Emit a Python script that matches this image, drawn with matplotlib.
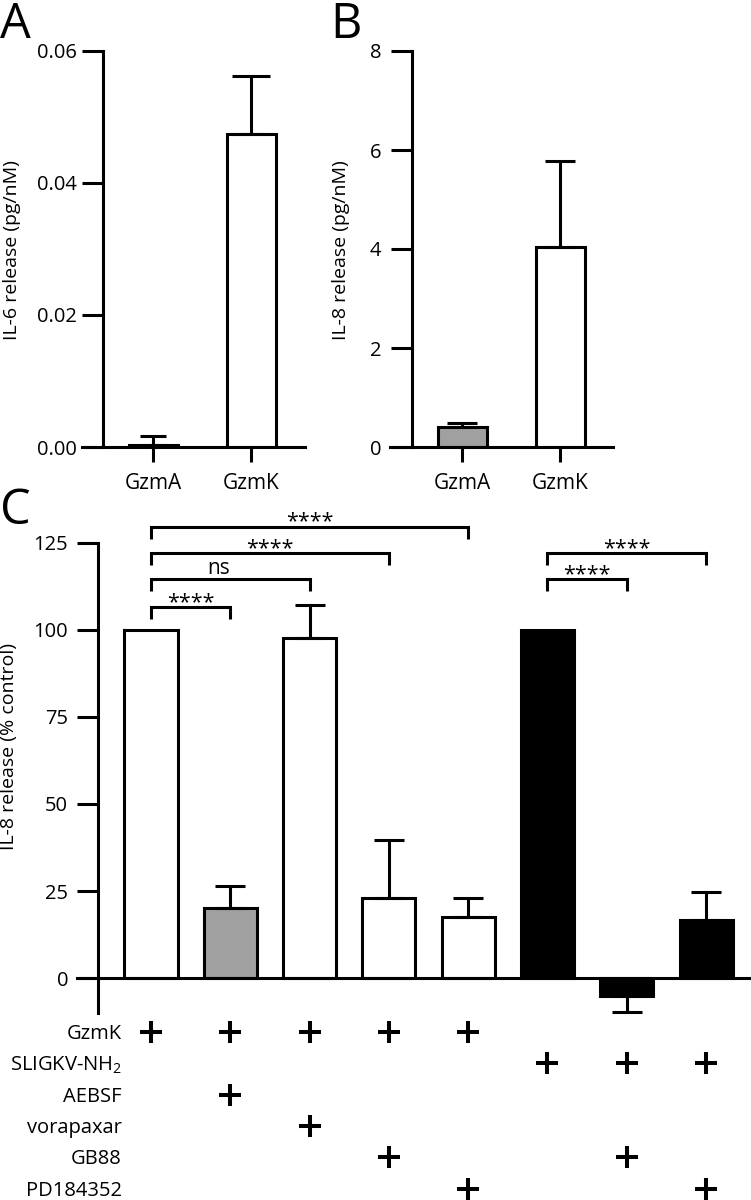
import numpy as np
import matplotlib
matplotlib.use("Agg")
import matplotlib.pyplot as plt
from matplotlib.transforms import blended_transform_factory

plt.rcParams['font.family'] = ['Open Sans', 'DejaVu Sans']
plt.rcParams['mathtext.default'] = 'regular'

W, H = 751, 1200

# panel A / B data
groups = ['GzmA', 'GzmK']
il6_vals = [0.0003, 0.0475]
il6_err = [0.0014, 0.0087]
il8_vals = [0.40, 4.05]
il8_err = [0.08, 1.72]

# panel C data
c_vals = [100, 20.2, 97.7, 23.0, 17.5, 100, -5.0, 16.8]
c_err = [0, 6.3, 9.3, 16.6, 5.5, 0, 4.8, 7.8]
c_fill = ['white', '#a0a0a0', 'white', 'white', 'white', 'black', 'black', 'black']

c_rows = ['GzmK', 'SLIGKV-NH$_2$', 'AEBSF', 'vorapaxar', 'GB88', 'PD184352']
c_table = [[1, 1, 1, 1, 1, 0, 0, 0],
           [0, 0, 0, 0, 0, 1, 1, 1],
           [0, 1, 0, 0, 0, 0, 0, 0],
           [0, 0, 1, 0, 0, 0, 0, 0],
           [0, 0, 0, 1, 0, 0, 1, 0],
           [0, 0, 0, 0, 1, 0, 0, 1]]

# significance: (bar i, bar j, label)
sig_pairs = [(0, 1, '****'), (0, 2, 'ns'), (0, 3, '****'), (0, 4, '****'),
             (5, 6, '****'), (5, 7, '****')]
sig_level = [106.5, 114.5, 122.0, 129.5, 114.5, 122.0]

LW = 2.2
TICK_FS = 14.5

fig = plt.figure(figsize=(W / 100, H / 100), dpi=100)


def px_axes(l, r, t, b):
    return fig.add_axes([l / W, 1 - b / H, (r - l) / W, (b - t) / H])


def one_sided(vals, errs):
    lo = [e if v < 0 else 0 for v, e in zip(vals, errs)]
    hi = [e if v >= 0 else 0 for v, e in zip(vals, errs)]
    return [lo, hi]


def style_axes(ax, yspine_x, ticks, labels, ylim):
    for s in ['top', 'right']:
        ax.spines[s].set_visible(False)
    ax.spines['left'].set_position(('data', yspine_x))
    ax.spines['left'].set_linewidth(LW)
    ax.spines['bottom'].set_linewidth(LW)
    ax.set_ylim(*ylim)
    ax.set_yticks(ticks)
    ax.set_yticklabels(labels)
    ax.tick_params(axis='y', length=15, width=LW, labelsize=TICK_FS, pad=5)
    ax.patch.set_visible(False)


# ---- panel A ----
axA = px_axes(82, 305, 51, 447)
x2 = np.arange(len(groups))
axA.bar(x2, il6_vals, width=0.5, color=['white', 'white'], edgecolor='black', linewidth=LW)
axA.errorbar(x2[0], il6_vals[0], yerr=[[0], [il6_err[0]]], fmt='none', ecolor='black',
             elinewidth=LW, capsize=9.7, capthick=LW, clip_on=False)
axA.errorbar(x2[1], il6_vals[1], yerr=[[0], [il6_err[1]]], fmt='none', ecolor='black',
             elinewidth=LW, capsize=13.7, capthick=LW, clip_on=False)
axA.set_xlim((82 - 153) / 98, (305 - 153) / 98)
style_axes(axA, -0.51, [0, 0.02, 0.04, 0.06], ['0.00', '0.02', '0.04', '0.06'], (0, 0.06))
axA.tick_params(axis='y', pad=4)
axA.set_xticks(x2)
axA.set_xticklabels(groups)
axA.tick_params(axis='x', length=10.8, width=LW, labelsize=15, pad=8)
fig.text(12 / W, 1 - 250 / H, 'IL-6 release (pg/nM)', rotation=90, ha='center', va='center', fontsize=14)

# ---- panel B ----
axB = px_axes(390, 613, 51, 447)
axB.bar(x2, il8_vals, width=0.5, color=['#a0a0a0', 'white'], edgecolor='black', linewidth=LW)
axB.errorbar(x2, il8_vals, yerr=[[0, 0], il8_err], fmt='none', ecolor='black',
             elinewidth=LW, capsize=10.8, capthick=LW, clip_on=False)
axB.set_xlim((390 - 462) / 98, (613 - 462) / 98)
style_axes(axB, -0.51, [0, 2, 4, 6, 8], ['0', '2', '4', '6', '8'], (0, 8))
axB.tick_params(axis='y', pad=7)
axB.set_xticks(x2)
axB.set_xticklabels(groups)
axB.tick_params(axis='x', length=10.8, width=LW, labelsize=15, pad=8)
fig.text(341 / W, 1 - 250 / H, 'IL-8 release (pg/nM)', rotation=90, ha='center', va='center', fontsize=14)

# ---- panel C ----
axC = px_axes(77, 751, 542.6, 1013)
xc = np.arange(len(c_vals))
axC.bar(xc, c_vals, width=0.67, color=c_fill, edgecolor='black', linewidth=LW)
has_err = [i for i, e in enumerate(c_err) if e > 0]
ev = [c_vals[i] for i in has_err]
ee = [c_err[i] for i in has_err]
axC.errorbar(has_err, ev, yerr=one_sided(ev, ee), fmt='none', ecolor='black',
             elinewidth=LW, capsize=10.8, capthick=LW, clip_on=False)
axC.set_xlim((77 - 151) / 79.3, (751 - 151) / 79.3)
style_axes(axC, -0.668, [0, 25, 50, 75, 100, 125], ['0', '25', '50', '75', '100', '125'], (-10, 125))
axC.tick_params(axis='y', pad=6.5)
axC.spines['bottom'].set_position(('data', 0))
axC.set_xticks([])
fig.text(9 / W, 1 - 746 / H, 'IL-8 release (% control)', rotation=90, ha='center', va='center', fontsize=14)

# significance brackets
for (i, j, lab), h in zip(sig_pairs, sig_level):
    axC.plot([i, i, j, j], [h - 3.5, h, h, h - 3.5], color='black', lw=LW,
             clip_on=False, solid_joinstyle='miter', solid_capstyle='butt')
    if lab == 'ns':
        axC.text((i + j) / 2 - 0.15, h + 1.6, lab, ha='center', va='baseline', fontsize=15, clip_on=False)
    else:
        axC.text((i + j) / 2, h - 0.2, lab, ha='center', va='baseline', fontsize=15.5, clip_on=False)

# treatment table
blend = blended_transform_factory(axC.transData, fig.transFigure)
for r, (name, flags) in enumerate(zip(c_rows, c_table)):
    ypx = 1034 + 31.3 * r
    axC.text(-0.366, 1 - ypx / H, name, ha='right', va='center', fontsize=14.5,
             transform=blend, clip_on=False)
    xs = [k for k, f in enumerate(flags) if f]
    axC.plot(xs, [1 - (ypx - 2) / H] * len(xs), '+', ms=16, mew=2.9, color='black',
             transform=blend, clip_on=False)

# panel letters
fig.text(0 / W, 1 - 1 / H, 'A', ha='left', va='top', fontsize=35)
fig.text(330 / W, 1 - 1 / H, 'B', ha='left', va='top', fontsize=35)
fig.text(0 / W, 1 - 487 / H, 'C', ha='left', va='top', fontsize=35)

fig.savefig('out.png', dpi=100)
